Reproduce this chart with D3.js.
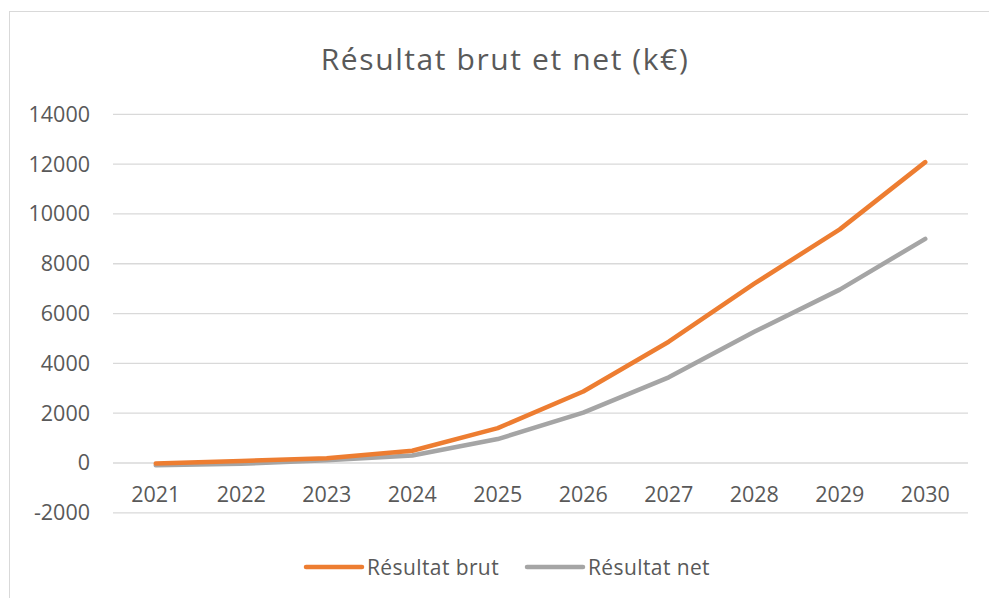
<!DOCTYPE html>
<html>
<head>
<meta charset="utf-8">
<script src="https://cdn.jsdelivr.net/npm/d3@7"></script>
<style>
  html, body { margin: 0; padding: 0; background: #fff; }
  svg { display: block; font-family: "Open Sans", Lato, sans-serif; }
</style>
</head>
<body>
<svg id="chart"></svg>
<script>
const years = ['2021', '2022', '2023', '2024', '2025', '2026', '2027', '2028', '2029', '2030'];
const brut = [-20, 80, 190, 490, 1400, 2870, 4870, 7200, 9380, 12080];
const net = [-90, -30, 110, 300, 960, 2020, 3440, 5270, 6960, 9000];
const yTicks = [-2000, 0, 2000, 4000, 6000, 8000, 10000, 12000, 14000];
const seriesNames = ['Résultat brut', 'Résultat net'];
const colors = ['#ED7D31', '#A5A5A5'];

const width = 989, height = 598;
const svg = d3.select('#chart').attr('width', width).attr('height', height);

// chart border (only top and left are visible in the frame)
svg.append('rect')
    .attr('x', 9.5).attr('y', 11.5)
    .attr('width', 1000).attr('height', 600)
    .attr('fill', 'none').attr('stroke', '#d9d9d9').attr('stroke-width', 1);

svg.append('text')
    .attr('x', 505).attr('y', 70)
    .attr('text-anchor', 'middle')
    .attr('font-size', 30)
    .attr('letter-spacing', 1.6)
    .attr('fill', '#595959')
    .text('Résultat brut et net (k€)');

let x = d3.scalePoint().domain(years).range([113, 968]).padding(0.5);
let y = d3.scaleLinear().domain([-2000, 14000]).range([512.8, 114.3]);

// gridlines
svg.append('g')
    .selectAll('line')
    .data(yTicks)
    .enter()
    .append('line')
    .attr('x1', 113).attr('x2', 968)
    .attr('y1', d => y(d)).attr('y2', d => y(d))
    .attr('stroke', '#d9d9d9').attr('stroke-width', 1.3);

// y labels
svg.append('g')
    .selectAll('text')
    .data(yTicks)
    .enter()
    .append('text')
    .attr('x', 90)
    .attr('y', d => y(d) + 7.5)
    .attr('text-anchor', 'end')
    .attr('font-size', 21.5)
    .attr('fill', '#595959')
    .text(d => d);

// x labels
svg.append('g')
    .selectAll('text')
    .data(years)
    .enter()
    .append('text')
    .attr('x', d => x(d))
    .attr('y', 502)
    .attr('text-anchor', 'middle')
    .attr('font-size', 21.5)
    .attr('fill', '#595959')
    .text(d => d);

let line = d3.line()
    .x((d, i) => x(years[i]))
    .y(d => y(d));

[net, brut].forEach(function (values, k) {
    svg.append('path')
        .datum(values)
        .attr('d', line)
        .attr('fill', 'none')
        .attr('stroke', colors[1 - k])
        .attr('stroke-width', 4.5)
        .attr('stroke-linejoin', 'round')
        .attr('stroke-linecap', 'round');
});

// legend
let legendX = [306, 527];
seriesNames.forEach(function (name, i) {
    let g = svg.append('g').attr('transform', 'translate(' + legendX[i] + ',567)');
    g.append('line')
        .attr('x1', 0).attr('x2', 56)
        .attr('stroke', colors[i]).attr('stroke-width', 4.5)
        .attr('stroke-linecap', 'round');
    g.append('text')
        .attr('x', 61).attr('y', 7.5)
        .attr('font-size', 21)
        .attr('letter-spacing', 0.4)
        .attr('fill', '#595959')
        .text(name);
});
</script>
</body>
</html>
